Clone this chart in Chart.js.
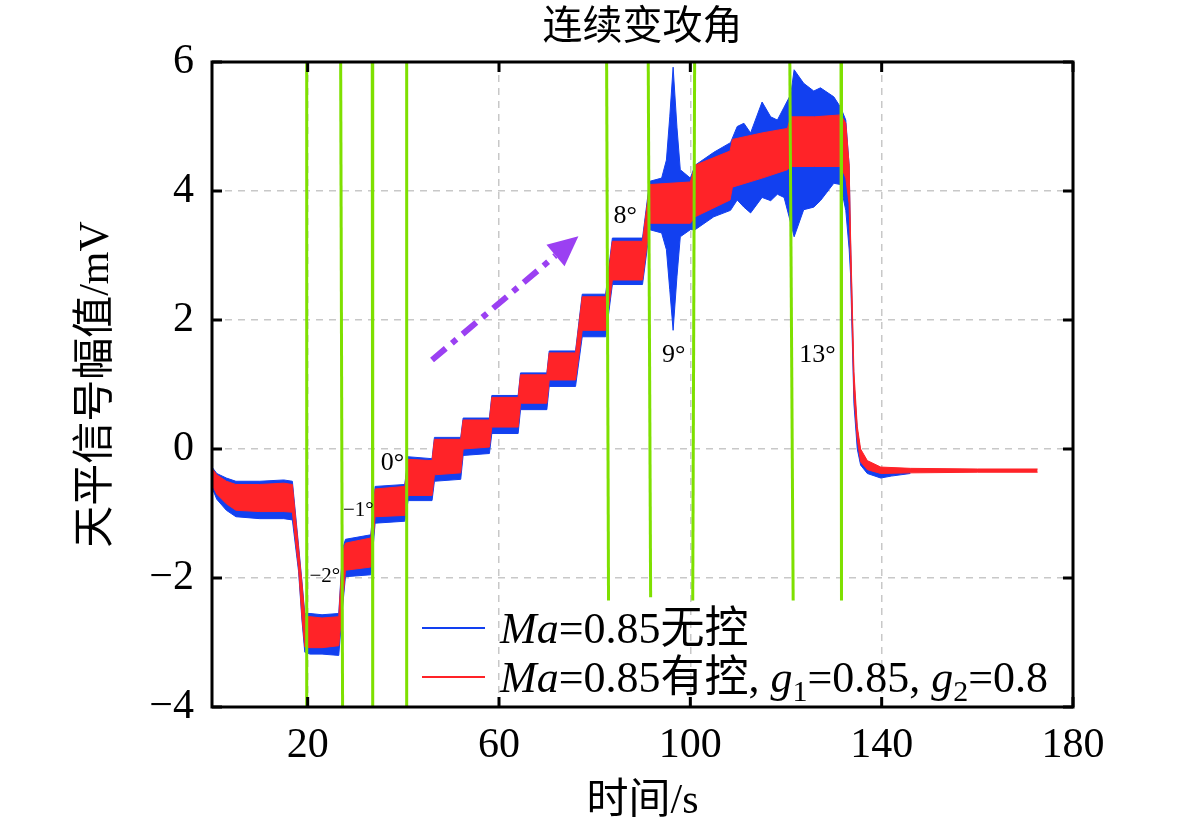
<!DOCTYPE html>
<html>
<head>
<meta charset="utf-8">
<script src="https://cdn.jsdelivr.net/npm/chart.js@4.4.1/dist/chart.umd.min.js"></script>
<style>
    html, body { margin: 0; padding: 0; background: #fff; }
</style>
</head>
<body>
<canvas id="myChart" width="1181" height="837"></canvas>
<script>
// time axis (s) and signal envelopes (mV)
const timeBlue = [0, 1, 3, 5, 10, 15, 16.8, 18.1, 18.8, 19.4, 20.5, 23, 26.5, 27.3, 27.9, 33.2, 34.1, 40.3, 41.0, 46, 46.5, 52, 52.5, 58, 58.5, 64, 64.5, 70, 70.5, 76, 77.4, 82.3, 83.7, 90, 91.5, 94, 95, 95.7, 96.4, 97.2, 97.9, 100, 101, 104.9, 108.4, 109.8, 111.2, 112.6, 115, 116.8, 118.2, 119.6, 121, 121.7, 123.7, 125.8, 127.2, 130, 131.4, 132.5, 133.2, 133.5, 134.2, 134.9, 135.6, 137, 139.8, 142, 146];
const blueHigh = [-0.28, -0.38, -0.45, -0.50, -0.50, -0.48, -0.50, -1.50, -2.05, -2.55, -2.55, -2.57, -2.55, -1.55, -1.40, -1.33, -0.58, -0.55, -0.12, -0.15, 0.18, 0.18, 0.48, 0.48, 0.83, 0.83, 1.18, 1.18, 1.52, 1.52, 2.40, 2.40, 3.27, 3.27, 4.15, 4.20, 4.48, 5.15, 5.92, 4.99, 4.33, 4.20, 4.40, 4.60, 4.75, 5.00, 5.05, 4.90, 5.38, 5.15, 5.10, 5.30, 5.50, 5.88, 5.67, 5.55, 5.60, 5.46, 5.30, 5.10, 4.40, 3.20, 1.05, 0.30, -0.05, -0.20, -0.33, -0.34, -0.34];
const blueLow = [-0.60, -0.78, -0.95, -1.05, -1.08, -1.08, -1.10, -1.90, -2.65, -3.15, -3.18, -3.18, -3.20, -2.45, -1.98, -1.95, -1.15, -1.12, -0.80, -0.80, -0.50, -0.47, -0.10, -0.07, 0.24, 0.24, 0.61, 0.61, 0.97, 0.97, 1.74, 1.74, 2.55, 2.55, 3.40, 3.35, 3.09, 2.47, 1.84, 2.67, 3.29, 3.40, 3.40, 3.60, 3.70, 3.86, 3.75, 3.66, 3.90, 3.85, 3.95, 3.90, 3.50, 3.29, 3.71, 3.75, 3.85, 4.12, 4.10, 3.70, 3.10, 2.70, 0.70, 0.00, -0.25, -0.38, -0.45, -0.42, -0.38];

const timeRed = [0, 1, 3, 5, 10, 15, 16.8, 18.1, 18.8, 19.4, 20.5, 23, 26.5, 27.3, 27.9, 33.2, 34.1, 40.3, 41.0, 46, 46.5, 52, 52.5, 58, 58.5, 64, 64.5, 70, 70.5, 76, 77.4, 82.3, 83.7, 90, 91.5, 100, 101, 108.3, 108.8, 115, 120.3, 121, 126, 131.5, 132.5, 133.2, 133.5, 134.2, 134.9, 135.6, 137, 139.8, 146, 160, 172.6];
const redHigh = [-0.30, -0.40, -0.50, -0.55, -0.55, -0.53, -0.55, -1.55, -2.08, -2.60, -2.60, -2.62, -2.60, -1.60, -1.46, -1.38, -0.62, -0.58, -0.16, -0.18, 0.15, 0.15, 0.45, 0.45, 0.80, 0.80, 1.15, 1.15, 1.49, 1.49, 2.36, 2.36, 3.22, 3.22, 4.10, 4.14, 4.40, 4.62, 4.80, 4.90, 4.97, 5.15, 5.15, 5.18, 5.05, 4.40, 3.30, 1.20, 0.35, 0.00, -0.18, -0.28, -0.30, -0.31, -0.31];
const redLow = [-0.55, -0.70, -0.85, -0.95, -0.97, -0.97, -0.98, -1.85, -2.60, -3.07, -3.08, -3.08, -3.05, -2.40, -1.88, -1.83, -1.05, -1.03, -0.72, -0.72, -0.40, -0.37, 0.00, 0.03, 0.34, 0.34, 0.71, 0.71, 1.07, 1.07, 1.84, 1.84, 2.62, 2.62, 3.50, 3.50, 3.60, 3.86, 4.06, 4.20, 4.33, 4.38, 4.38, 4.38, 4.20, 3.80, 2.90, 0.85, 0.15, -0.20, -0.32, -0.38, -0.37, -0.36, -0.36];

// angle-of-attack change markers (green)
const markTopX = [19.8, 26.9, 33.5, 40.7, 82.5, 91.2, 100.9, 120.8, 131.5];
const markBottomX = [19.8, 27.3, 33.6, 40.7, 82.9, 91.7, 100.5, 121.5, 131.6];
const markBottomY = [-4, -4, -4, -4, -2.35, -2.3, -2.35, -2.35, -2.35];

const angleText = ['−2°', '−1°', '0°', '8°', '9°', '13°'];
const angleX = [23.6, 30.6, 37.7, 86.4, 96.5, 126.6];
const angleY = [-1.98, -0.96, -0.22, 3.61, 1.46, 1.46];

const arrowFrom = [46.0, 1.38];
const arrowTo = [76.6, 3.30];

const xTicks = [20, 60, 100, 140, 180];
const yTicks = [-4, -2, 0, 2, 4, 6];

const BLUE = '#1240f0';
const RED = '#ff2328';
const GREEN = '#7ee000';
const SERIF = '"Liberation Serif", "Noto Sans CJK SC"';

function pts(xs, ys) {
    return xs.map((x, i) => ({x: x, y: ys[i]}));
}

const datasets = [];
// green marker lines on top
markTopX.forEach((x, i) => {
    datasets.push({
        data: [{x: x, y: 6}, {x: markBottomX[i], y: markBottomY[i]}],
        borderColor: GREEN, borderWidth: 3, pointRadius: 0, fill: false, order: 0
    });
});
const redIdx = datasets.length;
datasets.push({
    label: 'red-high', data: pts(timeRed, redHigh), borderColor: RED, borderWidth: 1,
    backgroundColor: RED, pointRadius: 0, fill: {target: redIdx + 1}, order: 1
});
datasets.push({
    label: 'red-low', data: pts(timeRed, redLow), borderColor: RED, borderWidth: 1,
    pointRadius: 0, fill: false, order: 1
});
const blueIdx = datasets.length;
datasets.push({
    label: 'blue-high', data: pts(timeBlue, blueHigh), borderColor: BLUE, borderWidth: 1,
    backgroundColor: BLUE, pointRadius: 0, fill: {target: blueIdx + 1}, order: 2
});
datasets.push({
    label: 'blue-low', data: pts(timeBlue, blueLow), borderColor: BLUE, borderWidth: 1,
    pointRadius: 0, fill: false, order: 2
});

function drawRuns(ctx, x, y, runs) {
    runs.forEach(r => {
        ctx.font = r.font;
        ctx.fillText(r.t, x, y + (r.dy || 0));
        x += ctx.measureText(r.t).width;
    });
}

const decorations = {
    id: 'decorations',
    afterDatasetsDraw(chart) {
        const ctx = chart.ctx;
        const xs = chart.scales.x, ys = chart.scales.y;
        const a = chart.chartArea;
        ctx.save();

        // arrow
        const x0 = xs.getPixelForValue(arrowFrom[0]), y0 = ys.getPixelForValue(arrowFrom[1]);
        const x1 = xs.getPixelForValue(arrowTo[0]), y1 = ys.getPixelForValue(arrowTo[1]);
        const ang = Math.atan2(y1 - y0, x1 - x0);
        const headLen = 30, headW = 14;
        const bx = x1 - headLen * Math.cos(ang), by = y1 - headLen * Math.sin(ang);
        ctx.strokeStyle = '#9b40f2';
        ctx.fillStyle = '#9b40f2';
        ctx.lineWidth = 6;
        ctx.setLineDash([18, 8, 6, 8]);
        ctx.beginPath();
        ctx.moveTo(x0, y0);
        ctx.lineTo(bx, by);
        ctx.stroke();
        ctx.setLineDash([]);
        ctx.beginPath();
        ctx.moveTo(x1, y1);
        ctx.lineTo(bx + headW * Math.sin(ang), by - headW * Math.cos(ang));
        ctx.lineTo(bx - headW * Math.sin(ang), by + headW * Math.cos(ang));
        ctx.closePath();
        ctx.fill();

        // frame + inward ticks
        ctx.strokeStyle = '#000';
        ctx.lineWidth = 3;
        ctx.strokeRect(a.left, a.top, a.right - a.left, a.bottom - a.top);
        ctx.beginPath();
        xTicks.forEach(v => {
            const px = xs.getPixelForValue(v);
            ctx.moveTo(px, a.bottom); ctx.lineTo(px, a.bottom - 10);
            ctx.moveTo(px, a.top); ctx.lineTo(px, a.top + 10);
        });
        yTicks.forEach(v => {
            const py = ys.getPixelForValue(v);
            ctx.moveTo(a.left, py); ctx.lineTo(a.left + 10, py);
            ctx.moveTo(a.right, py); ctx.lineTo(a.right - 10, py);
        });
        ctx.stroke();

        // angle labels
        ctx.fillStyle = '#000';
        ctx.textAlign = 'center';
        ctx.textBaseline = 'middle';
        angleText.forEach((t, i) => {
            ctx.font = (i < 2 ? '21px ' : '26px ') + SERIF;
            ctx.fillText(t, xs.getPixelForValue(angleX[i]), ys.getPixelForValue(angleY[i]));
        });

        // legend
        const lx = 422, lw = 63;
        const rows = [628, 677];
        ctx.lineWidth = 2;
        ctx.strokeStyle = BLUE;
        ctx.beginPath(); ctx.moveTo(lx, rows[0]); ctx.lineTo(lx + lw, rows[0]); ctx.stroke();
        ctx.strokeStyle = RED;
        ctx.beginPath(); ctx.moveTo(lx, rows[1]); ctx.lineTo(lx + lw, rows[1]); ctx.stroke();
        ctx.textAlign = 'left';
        ctx.textBaseline = 'alphabetic';
        const reg = '44px ' + SERIF, ita = 'italic 44px ' + SERIF, sub = '30px ' + SERIF;
        drawRuns(ctx, 500, rows[0] + 15, [
            {t: 'Ma', font: ita}, {t: '=0.85无控', font: reg}
        ]);
        drawRuns(ctx, 500, rows[1] + 15, [
            {t: 'Ma', font: ita}, {t: '=0.85有控, ', font: reg},
            {t: 'g', font: ita}, {t: '1', font: sub, dy: 9},
            {t: '=0.85, ', font: reg},
            {t: 'g', font: ita}, {t: '2', font: sub, dy: 9},
            {t: '=0.8', font: reg}
        ]);

        // titles
        ctx.textAlign = 'center';
        ctx.textBaseline = 'middle';
        ctx.font = '40px "Noto Sans CJK SC"';
        ctx.fillText('连续变攻角', (a.left + a.right) / 2, 24);
        ctx.font = '42px ' + SERIF;
        ctx.fillText('时间/s', (a.left + a.right) / 2, 802);
        ctx.translate(97, (a.top + a.bottom) / 2);
        ctx.rotate(-Math.PI / 2);
        ctx.fillText('天平信号幅值/mV', 0, 0);
        ctx.restore();
    }
};

const ctx = document.getElementById('myChart').getContext('2d');
const chart = new Chart(ctx, {
    type: 'line',
    data: {datasets: datasets},
    options: {
        responsive: false,
        animation: false,
        devicePixelRatio: 1,
        layout: {padding: {top: 62, right: 108, left: 0, bottom: 0}},
        plugins: {
            legend: {display: false},
            tooltip: {enabled: false},
            title: {display: false}
        },
        elements: {line: {tension: 0}},
        scales: {
            x: {
                type: 'linear', min: 0, max: 180,
                afterBuildTicks: s => { s.ticks = xTicks.map(v => ({value: v})); },
                afterFit: s => { s.height = 130; },
                grid: {
                    drawTicks: false,
                    lineWidth: 1.5,
                    color: c => (c.tick && c.tick.value === 180) ? 'rgba(0,0,0,0)' : '#c8c8c8'
                },
                border: {display: false, dash: [7, 6]},
                ticks: {
                    padding: 14, color: '#000',
                    font: {family: SERIF, size: 42},
                    maxRotation: 0
                }
            },
            y: {
                min: -4, max: 6,
                afterBuildTicks: s => { s.ticks = yTicks.map(v => ({value: v})); },
                afterFit: s => { s.width = 212; },
                grid: {
                    drawTicks: false,
                    lineWidth: 1.5,
                    color: c => (c.tick && (c.tick.value === 6 || c.tick.value === -4)) ? 'rgba(0,0,0,0)' : '#c8c8c8'
                },
                border: {display: false, dash: [7, 6]},
                ticks: {
                    padding: 18, color: '#000',
                    font: {family: SERIF, size: 42},
                    callback: v => String(v).replace('-', '−')
                }
            }
        }
    },
    plugins: [decorations]
});
</script>
</body>
</html>
